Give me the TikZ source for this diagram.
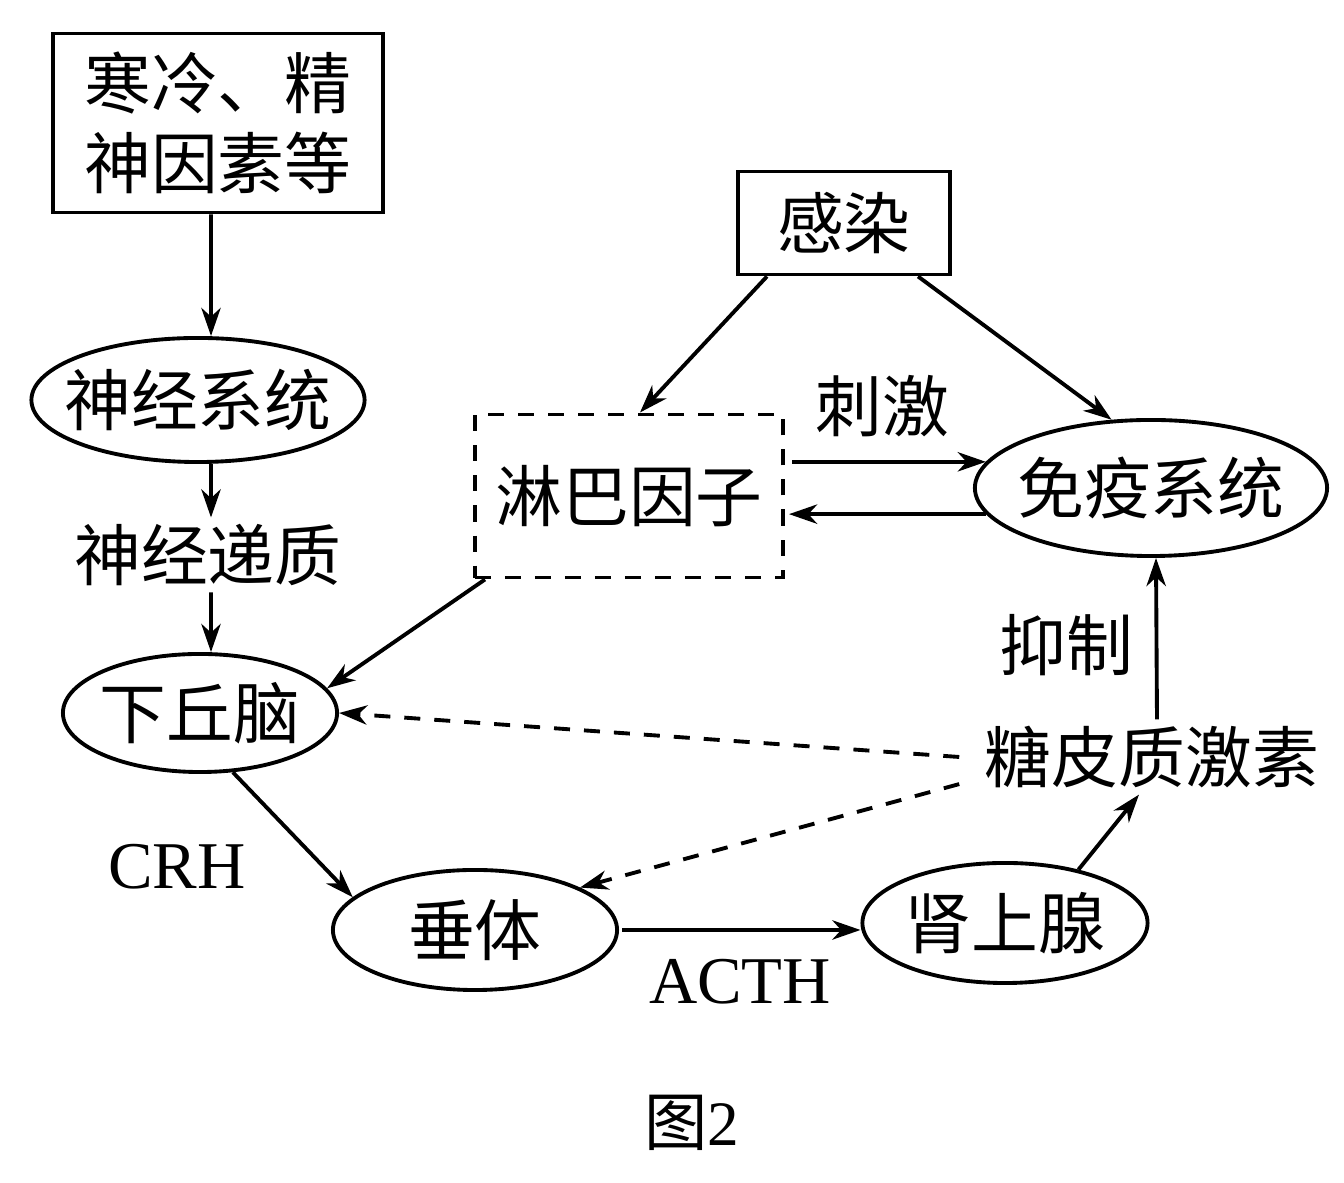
\documentclass[tikz,border=0pt]{standalone}
\usepackage{fontspec}
\setmainfont{Liberation Serif}
\newfontfamily\cjk{Noto Sans CJK SC}
\usetikzlibrary{shapes.geometric, arrows.meta}
\tikzset{>={Stealth[length=8pt, width=5.5pt, inset=2.5pt]}, % arrow heads
every node/.style={font=\cjk\fontsize{19}{22.8}\selectfont},
box/.style={draw, line width=1.1pt, inner sep=0pt},
oval/.style={draw, ellipse, line width=1.1pt, inner sep=0pt}, % inner xsep trims long texts
word/.style={inner sep=0.06cm},
latin/.style={inner sep=0.06cm, font=\rmfamily\fontsize{19}{22.8}\selectfont},
link/.style={->, line width=1.1pt},
dashline/.style={dash pattern=on 0.16cm off 0.14cm},
}

\begin{document}
\begin{tikzpicture}[x=0.01cm, y=-0.01cm]
  \useasboundingbox (0,0) rectangle (1344,1183);

  % boxes and ovals
  \node[box, minimum width=3.3cm, minimum height=1.79cm, align=center] (cold) at (218,123) {寒冷、精\\神因素等};
  \node[box, minimum width=2.12cm, minimum height=1.03cm] (inf) at (844,223) {感染};
  \node[box, dashline, minimum width=3.08cm, minimum height=1.63cm] (lym) at (629,496) {淋巴因子};
  \node[oval, inner xsep=-0.17cm, minimum width=3.33cm, minimum height=1.24cm] (ns) at (198,400) {神经系统};
  \node[oval, inner xsep=-0.05cm, minimum width=2.74cm, minimum height=1.18cm] (hyp) at (200,713) {下丘脑};
  \node[oval, minimum width=2.84cm, minimum height=1.2cm] (pit) at (475,930) {垂体};
  \node[oval, minimum width=2.85cm, minimum height=1.2cm] (adr) at (1005,923) {肾上腺};
  \node[oval, inner xsep=-0.11cm, minimum width=3.52cm, minimum height=1.36cm] (imm) at (1151,488) {免疫系统};

  % plain texts
  \node[word] (nt) at (208,555) {神经递质};
  \node[word, inner xsep=0.25cm] (gc) at (1152,757) {糖皮质激素};
  \node[word] (inhib) at (1066,645) {抑制};
  \node[word] (stim) at (882,406) {刺激};
  \node[latin] (crh) at (177,867) {CRH};
  \node[latin] (acth) at (740,982) {ACTH};
  \node[word, font=\cjk\fontsize{18}{21}\selectfont] (fig) at (692,1123) {图{\rmfamily 2}};

  % arrows
  \draw[link] ([xshift=-0.07cm]cold.south) -- ([xshift=0.13cm]ns.north);
  \draw[link] ([xshift=0.13cm]ns.south) -- ([xshift=0.03cm]nt.north);
  \draw[link] ([xshift=0.03cm]nt.south) -- ([xshift=0.11cm]hyp.north);
  \draw[link] (hyp.299) -- (pit.165);
  \draw[link, shorten <=0.03cm] (pit.east) -- (adr.west |- pit.east);
  \draw[link] (adr.36) -- ([xshift=-0.13cm]gc.south);
  \draw[link] ([xshift=0.05cm]gc.north) -- ([xshift=0.05cm]imm.south);
  \draw[link, dashline] (gc.west) -- (hyp.east);
  \draw[link, dashline] (gc.188) -- (pit.22);
  \draw[link] ([xshift=-0.77cm]inf.south) -- ([xshift=0.11cm]lym.north);
  \draw[link] ([xshift=0.74cm]inf.south) -- (imm.120);
  \draw[link] ([xshift=0.12cm]lym.south west) -- (hyp.11);
  \draw[link, shorten <=0.07cm] (lym.east |- imm.171) -- (imm.171);
  \draw[link, shorten >=0.04cm] (imm.189) -- (lym.east |- imm.189);

\end{tikzpicture}
\end{document}
